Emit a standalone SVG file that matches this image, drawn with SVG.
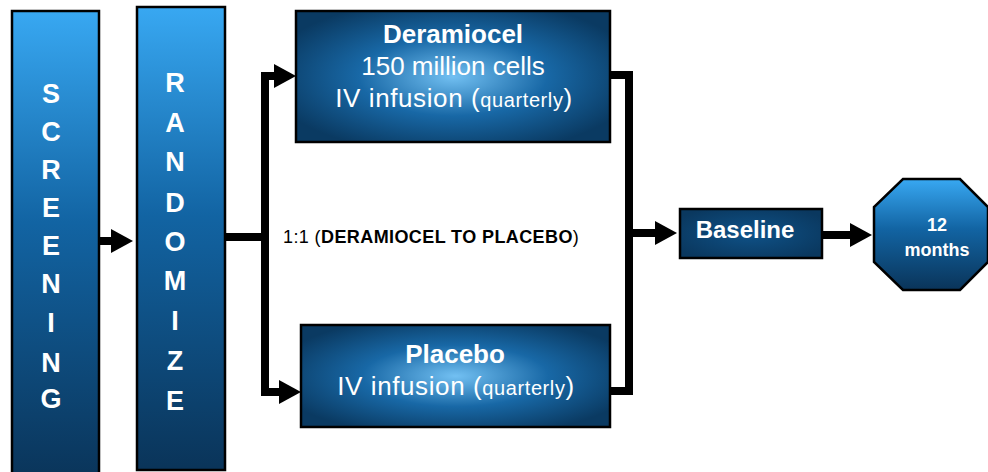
<svg xmlns="http://www.w3.org/2000/svg" width="988" height="472" viewBox="0 0 988 472">
<defs>
<linearGradient id="gv" x1="0" y1="0" x2="0" y2="1">
<stop offset="0" stop-color="#38a8f2"/>
<stop offset="0.45" stop-color="#1264a3"/>
<stop offset="1" stop-color="#0a3459"/>
</linearGradient>
<radialGradient id="gr" cx="0.5" cy="0.5" r="0.6">
<stop offset="0" stop-color="#72c0f2"/>
<stop offset="0.5" stop-color="#1868a6"/>
<stop offset="1" stop-color="#0a3a62"/>
</radialGradient>
<radialGradient id="gb" cx="0.5" cy="0.5" r="0.6">
<stop offset="0" stop-color="#0f5288"/>
<stop offset="1" stop-color="#0a385f"/>
</radialGradient>
<marker id="ah" markerUnits="userSpaceOnUse" markerWidth="24" markerHeight="24" refX="12" refY="12" orient="auto">
<path d="M0,0 L22,12 L0,24 z" fill="#000"/>
</marker>
<style>
.box{stroke:#000;stroke-width:2.5}
.ln{fill:none;stroke:#000;stroke-width:8;stroke-linejoin:miter}
.big{font-family:"Liberation Sans",Arial,sans-serif;font-weight:bold;font-size:27px;fill:#fff;text-anchor:middle}
.t{font-family:"Liberation Sans",Arial,sans-serif;fill:#fff;text-anchor:middle;font-size:26px}
.b{font-weight:bold}
.s{font-size:20px}
.iv{letter-spacing:0.6px}
</style>
</defs>
<g id="connectors">
<path class="ln" d="M99,241 H123" marker-end="url(#ah)"/>
<path class="ln" d="M225,237 H265 V76 H286" marker-end="url(#ah)"/>
<path class="ln" d="M265,237 V392 H291" marker-end="url(#ah)"/>
<path class="ln" d="M610,75 H629 V391 H610"/>
<path class="ln" d="M629,233 H667" marker-end="url(#ah)"/>
<path class="ln" d="M822,235 H862" marker-end="url(#ah)"/>
</g>
<g id="screening">
<rect class="box" x="12" y="11" width="87" height="470" fill="url(#gv)"/>
<text class="big"><tspan x="51" y="103">S</tspan><tspan x="51" y="141">C</tspan><tspan x="51" y="179">R</tspan><tspan x="51" y="217">E</tspan><tspan x="51" y="255">E</tspan><tspan x="51" y="293">N</tspan><tspan x="51" y="332">I</tspan><tspan x="51" y="372">N</tspan><tspan x="51" y="408">G</tspan></text>
</g>
<g id="randomize">
<rect class="box" x="137" y="7" width="88" height="463" fill="url(#gv)"/>
<text class="big"><tspan x="175" y="92">R</tspan><tspan x="175" y="132">A</tspan><tspan x="175" y="171">N</tspan><tspan x="175" y="212">D</tspan><tspan x="175" y="251">O</tspan><tspan x="175" y="290">M</tspan><tspan x="175" y="330">I</tspan><tspan x="175" y="370">Z</tspan><tspan x="175" y="410">E</tspan></text>
</g>
<g id="deramiocel">
<rect class="box" x="296" y="11" width="314" height="131" fill="url(#gr)"/>
<text class="t b" x="453" y="43">Deramiocel</text>
<text class="t" x="453" y="75">150 million cells</text>
<text class="t iv" x="454" y="107">IV infusion (<tspan class="s">quarterly</tspan>)</text>
</g>
<g id="placebo">
<rect class="box" x="301" y="325" width="309" height="102" fill="url(#gr)"/>
<text class="t b" x="455" y="363">Placebo</text>
<text class="t iv" x="456" y="395">IV infusion (<tspan class="s">quarterly</tspan>)</text>
</g>
<g id="label">
<text x="283" y="243" font-family="'Liberation Sans',Arial,sans-serif" font-size="18" letter-spacing="0.4" fill="#000">1:1 (<tspan font-weight="bold">DERAMIOCEL TO PLACEBO</tspan>)</text>
</g>
<g id="baseline">
<rect class="box" x="680" y="209" width="142" height="49" fill="url(#gb)"/>
<text class="t b" x="745" y="238" style="font-size:24px">Baseline</text>
</g>
<g id="months12">
<polygon class="box" points="903,179 960,179 988,207 988,262 960,290 903,290 874,262 874,207" fill="url(#gv)"/>
<text class="t b" x="937" y="231" style="font-size:18px">12</text>
<text class="t b" x="937" y="256" style="font-size:18px">months</text>
</g>
</svg>
